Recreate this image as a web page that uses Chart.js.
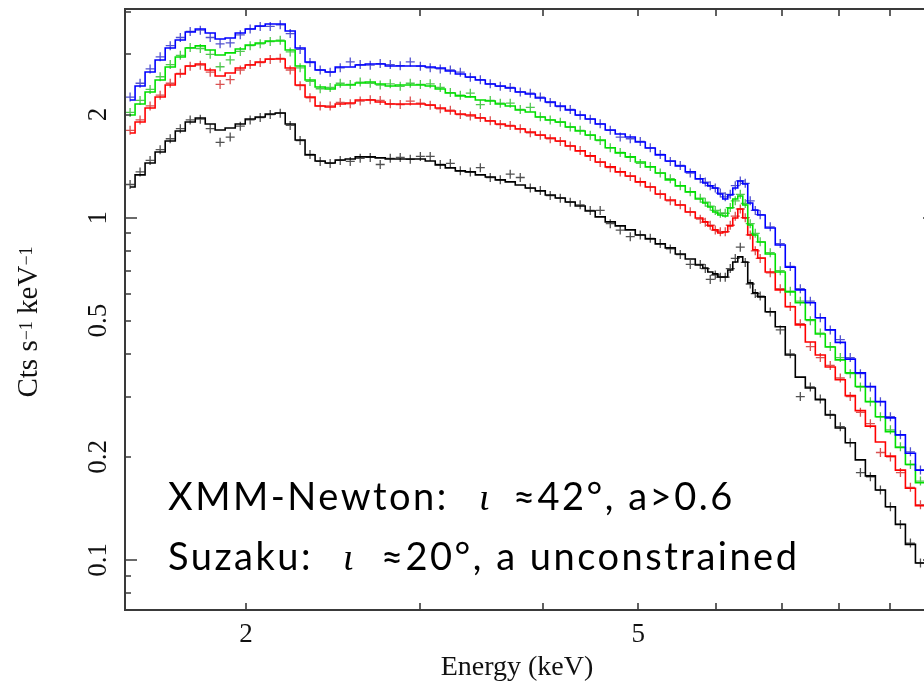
<!DOCTYPE html>
<html>
<head>
<meta charset="utf-8">
<script src="https://cdn.jsdelivr.net/npm/chart.js@4.4.1/dist/chart.umd.min.js"></script>
<style>
  html, body { margin: 0; padding: 0; background: #fff; overflow: hidden; }
  #wrap { width: 924px; height: 683px; overflow: hidden; }
</style>
</head>
<body>
<div id="wrap"><canvas id="spectrumChart" width="960" height="683"></canvas></div>
<script>
"use strict"

// bin centres (keV)
var energy = [1.526, 1.562, 1.599, 1.637, 1.676, 1.716, 1.756, 1.798, 1.840, 1.883,
  1.928, 1.974, 2.020, 2.068, 2.117, 2.167, 2.218, 2.270, 2.323, 2.379,
  2.435, 2.493, 2.552, 2.612, 2.674, 2.737, 2.802, 2.868, 2.936, 3.006,
  3.076, 3.149, 3.224, 3.300, 3.378, 3.458, 3.539, 3.623, 3.708, 3.796,
  3.886, 3.978, 4.071, 4.168, 4.266, 4.366, 4.470, 4.575, 4.684, 4.794,
  4.908, 5.024, 5.143, 5.264, 5.389, 5.516, 5.646, 5.780,
  5.848, 5.916, 5.986, 6.057, 6.127, 6.199, 6.272, 6.346, 6.420, 6.495, 6.572, 6.648,
  6.806, 6.967, 7.132, 7.301, 7.474, 7.650, 7.830, 8.016, 8.204, 8.401, 8.599, 8.803, 9.011, 9.224, 9.442, 9.666, 9.894];

// folded models (step lines)
var blueModel = [2.207, 2.425, 2.665, 2.889, 3.132, 3.305, 3.488, 3.559, 3.464, 3.327,
  3.350, 3.464, 3.559, 3.632, 3.681, 3.681, 3.511, 3.132, 2.850, 2.701,
  2.665, 2.756, 2.756, 2.793, 2.812, 2.812, 2.774, 2.774, 2.774, 2.774,
  2.756, 2.738, 2.683, 2.629, 2.576, 2.525, 2.457, 2.425, 2.393, 2.329,
  2.298, 2.237, 2.177, 2.120, 2.063, 1.995, 1.942, 1.878, 1.804, 1.756,
  1.721, 1.663, 1.598, 1.525, 1.464, 1.416, 1.361, 1.298,
  1.263, 1.238, 1.221, 1.173, 1.134, 1.165, 1.221, 1.280, 1.254, 1.104, 1.053, 1.018,
  0.933, 0.832, 0.717, 0.615, 0.564, 0.510, 0.470, 0.432, 0.386, 0.352, 0.321, 0.290, 0.260, 0.232, 0.205, 0.183, 0.166];
var greenModel = [1.995, 2.148, 2.329, 2.525, 2.756, 2.948, 3.132, 3.175, 3.090, 2.988,
  3.029, 3.111, 3.196, 3.239, 3.283, 3.283, 3.090, 2.774, 2.525, 2.408,
  2.377, 2.441, 2.441, 2.474, 2.491, 2.457, 2.425, 2.441, 2.441, 2.441,
  2.425, 2.377, 2.314, 2.268, 2.253, 2.207, 2.192, 2.148, 2.120, 2.063,
  2.035, 1.968, 1.929, 1.903, 1.840, 1.792, 1.744, 1.686, 1.600, 1.546,
  1.505, 1.454, 1.407, 1.351, 1.289, 1.238, 1.189, 1.134,
  1.104, 1.074, 1.039, 1.018, 1.011, 1.067, 1.134, 1.157, 1.089, 0.952, 0.890, 0.849,
  0.783, 0.694, 0.607, 0.564, 0.503, 0.457, 0.419, 0.384, 0.352, 0.321, 0.290, 0.262, 0.237, 0.213, 0.190, 0.168, 0.150];
var redModel = [1.768, 1.903, 2.091, 2.252, 2.441, 2.629, 2.774, 2.812, 2.701, 2.594,
  2.646, 2.738, 2.793, 2.850, 2.908, 2.908, 2.738, 2.441, 2.252, 2.120,
  2.106, 2.148, 2.163, 2.207, 2.207, 2.177, 2.148, 2.148, 2.148, 2.148,
  2.134, 2.091, 2.049, 2.009, 1.995, 1.955, 1.916, 1.878, 1.853, 1.816,
  1.780, 1.744, 1.709, 1.675, 1.620, 1.567, 1.515, 1.454, 1.407, 1.361,
  1.324, 1.272, 1.229, 1.173, 1.126, 1.089, 1.039, 0.998,
  0.972, 0.946, 0.921, 0.902, 0.908, 0.946, 0.998, 1.060, 0.998, 0.890, 0.805, 0.762,
  0.694, 0.615, 0.549, 0.486, 0.433, 0.397, 0.366, 0.336, 0.302, 0.273, 0.246, 0.221, 0.201, 0.183, 0.162, 0.144, 0.129];
var blackModel = [1.229, 1.333, 1.445, 1.556, 1.675, 1.792, 1.903, 1.955, 1.878, 1.804,
  1.828, 1.878, 1.942, 1.968, 2.009, 2.022, 1.878, 1.686, 1.525, 1.464,
  1.445, 1.474, 1.484, 1.505, 1.505, 1.495, 1.484, 1.484, 1.484, 1.484,
  1.464, 1.426, 1.398, 1.370, 1.361, 1.333, 1.315, 1.289, 1.272, 1.246,
  1.221, 1.197, 1.165, 1.141, 1.111, 1.082, 1.046, 1.005, 0.972, 0.946,
  0.921, 0.890, 0.867, 0.838, 0.816, 0.783, 0.757, 0.727,
  0.713, 0.694, 0.685, 0.671, 0.671, 0.703, 0.742, 0.768, 0.742, 0.645, 0.603, 0.587,
  0.531, 0.480, 0.397, 0.342, 0.318, 0.294, 0.265, 0.243, 0.220, 0.196, 0.176, 0.160, 0.143, 0.127, 0.111, 0.098, 0.0905];

// measured counts (crosses)
var blueData = [2.25, 2.47, 2.72, 2.95, 3.18, 3.36, 3.50, 3.53, 3.36, 3.22,
  3.24, 3.42, 3.56, 3.62, 3.62, 3.66, 3.45, 3.10, 2.84, 2.70,
  2.66, 2.74, 2.85, 2.80, 2.79, 2.82, 2.80, 2.78, 2.85, 2.77,
  2.74, 2.72, 2.70, 2.66, 2.57, 2.53, 2.46, 2.42, 2.40, 2.33,
  2.31, 2.25, 2.17, 2.11, 2.07, 1.99, 1.94, 1.88, 1.80, 1.72,
  1.70, 1.67, 1.60, 1.53, 1.46, 1.42, 1.35, 1.30,
  1.27, 1.24, 1.22, 1.18, 1.15, 1.17, 1.24, 1.28, 1.26, 1.12, 1.05, 1.02,
  0.94, 0.84, 0.72, 0.62, 0.57, 0.51, 0.47, 0.44, 0.39, 0.35, 0.32, 0.29, 0.262, 0.232, 0.207, 0.183, 0.168];
var greenData = [2.03, 2.20, 2.37, 2.58, 2.80, 2.98, 3.14, 3.12, 3.00, 2.76,
  2.89, 3.06, 3.18, 3.22, 3.27, 3.30, 3.05, 2.74, 2.50, 2.38,
  2.40, 2.47, 2.45, 2.49, 2.47, 2.44, 2.46, 2.42, 2.47, 2.45,
  2.46, 2.40, 2.32, 2.28, 2.31, 2.14, 2.20, 2.16, 2.16, 2.07,
  2.10, 1.97, 1.93, 1.90, 1.84, 1.80, 1.74, 1.68, 1.60, 1.55,
  1.50, 1.44, 1.41, 1.35, 1.30, 1.24, 1.19, 1.14,
  1.11, 1.08, 1.05, 1.03, 1.03, 1.07, 1.12, 1.17, 1.10, 0.96, 0.90, 0.85,
  0.79, 0.70, 0.61, 0.57, 0.50, 0.46, 0.42, 0.39, 0.35, 0.32, 0.29, 0.262, 0.24, 0.214, 0.19, 0.17, 0.15];
var redData = [1.80, 1.93, 2.12, 2.28, 2.47, 2.64, 2.77, 2.79, 2.66, 2.45,
  2.53, 2.70, 2.80, 2.84, 2.90, 2.92, 2.70, 2.43, 2.24, 2.12,
  2.12, 2.17, 2.15, 2.19, 2.21, 2.20, 2.15, 2.14, 2.19, 2.16,
  2.13, 2.08, 2.06, 2.00, 1.98, 1.96, 1.92, 1.87, 1.86, 1.82,
  1.77, 1.74, 1.70, 1.67, 1.62, 1.57, 1.51, 1.45, 1.40, 1.36,
  1.32, 1.27, 1.23, 1.17, 1.12, 1.09, 1.04, 0.99,
  0.97, 0.95, 0.92, 0.91, 0.91, 0.95, 1.01, 1.06, 1.00, 0.89, 0.80, 0.76,
  0.69, 0.62, 0.55, 0.49, 0.42, 0.39, 0.37, 0.34, 0.30, 0.27, 0.25, 0.206, 0.20, 0.18, 0.163, 0.145, 0.13];
var blackData = [1.25, 1.36, 1.47, 1.58, 1.70, 1.82, 1.93, 1.94, 1.82, 1.66,
  1.72, 1.85, 1.93, 1.96, 2.00, 2.02, 1.86, 1.68, 1.53, 1.46,
  1.44, 1.47, 1.46, 1.49, 1.50, 1.43, 1.49, 1.50, 1.48, 1.51,
  1.51, 1.43, 1.44, 1.37, 1.36, 1.40, 1.31, 1.29, 1.34, 1.31,
  1.22, 1.20, 1.16, 1.14, 1.11, 1.09, 1.05, 1.05, 0.96, 0.92,
  0.88, 0.89, 0.87, 0.84, 0.81, 0.78, 0.73, 0.73,
  0.71, 0.66, 0.68, 0.67, 0.67, 0.71, 0.76, 0.82, 0.74, 0.64, 0.60, 0.59,
  0.53, 0.47, 0.40, 0.30, 0.32, 0.295, 0.266, 0.245, 0.22, 0.18, 0.175, 0.16, 0.143, 0.127, 0.112, 0.098, 0.09];

// axes
var xTicks = [2, 3, 4, 5, 6, 7, 8, 9, 10];
var xLabels = [2, 5];
var yTicks = [0.08, 0.09, 0.1, 0.2, 0.3, 0.4, 0.5, 0.6, 0.7, 0.8, 0.9, 1, 2, 3, 4];
var yMajor = [0.1, 1];
var yLabels = [0.1, 0.2, 0.5, 1, 2];

function pairs(vals) {
  return energy.map(function(e, i){ return {x: e, y: vals[i]}; });
}

function modelSet(vals, color) {
  return {
    data: pairs(vals),
    borderColor: color,
    borderWidth: 1.6,
    pointRadius: 0,
    stepped: 'middle',
    fill: false
  };
}

function dataSet(vals, color) {
  return {
    data: pairs(vals),
    showLine: false,
    borderColor: color,
    backgroundColor: color,
    pointStyle: 'cross',
    pointRadius: 4.5,
    pointBorderWidth: 1.3
  };
}

var framePlugin = {
  id: 'frame',
  afterDraw: function(chart) {
    var ctx = chart.ctx;
    var a = chart.chartArea;
    var xs = chart.scales.x, ys = chart.scales.y;
    ctx.save();

    // box + inward ticks
    ctx.strokeStyle = '#3a3a3a';
    ctx.lineWidth = 2;
    ctx.strokeRect(a.left, a.top, a.right - a.left, a.bottom - a.top);
    ctx.lineWidth = 1.6;
    ctx.beginPath();
    xTicks.forEach(function(t){
      var px = Math.round(xs.getPixelForValue(t));
      ctx.moveTo(px, a.bottom); ctx.lineTo(px, a.bottom - 7);
      ctx.moveTo(px, a.top); ctx.lineTo(px, a.top + 7);
    });
    yTicks.forEach(function(t){
      var py = Math.round(ys.getPixelForValue(t));
      var len = yMajor.indexOf(t) >= 0 ? 12 : 6;
      ctx.moveTo(a.left, py); ctx.lineTo(a.left + len, py);
      ctx.moveTo(a.right, py); ctx.lineTo(a.right - len, py);
    });
    ctx.stroke();

    // tick labels
    ctx.fillStyle = '#111';
    ctx.font = '27px "Liberation Serif"';
    ctx.textAlign = 'center';
    ctx.textBaseline = 'alphabetic';
    xLabels.forEach(function(t){
      ctx.fillText(String(t), xs.getPixelForValue(t), 642);
    });
    yLabels.forEach(function(t){
      ctx.save();
      ctx.translate(106, ys.getPixelForValue(t));
      ctx.rotate(-Math.PI / 2);
      ctx.fillText(String(t), 0, 0);
      ctx.restore();
    });

    // axis titles
    ctx.font = '28px "Liberation Serif"';
    ctx.fillText('Energy (keV)', 517, 675);

    var parts = [
      {t: 'Cts s', f: '29px "Liberation Serif"', r: 0},
      {t: '\u22121', f: '18px "Liberation Serif"', r: 5},
      {t: ' keV', f: '29px "Liberation Serif"', r: 0},
      {t: '\u22121', f: '18px "Liberation Serif"', r: 5}
    ];
    var total = 0;
    parts.forEach(function(p){ ctx.font = p.f; p.w = ctx.measureText(p.t).width; total += p.w; });
    ctx.save();
    ctx.translate(37, 322);
    ctx.rotate(-Math.PI / 2);
    ctx.textAlign = 'left';
    var cx = -total / 2;
    parts.forEach(function(p){ ctx.font = p.f; ctx.fillText(p.t, cx, -p.r); cx += p.w; });
    ctx.restore();

    // annotation
    var sans = '38px Lato';
    var iota = 'italic 38px "Liberation Serif"';
    var lines = [
      {y: 510, runs: [[168, 'XMM-Newton:', sans], [479, '\u03b9', iota], [513, '\u224842\u00b0, a>0.6', sans]]},
      {y: 570, runs: [[168, 'Suzaku:', sans], [343, '\u03b9', iota], [381, '\u224820\u00b0, a unconstrained', sans]]}
    ];
    ctx.textAlign = 'left';
    ctx.fillStyle = '#000';
    lines.forEach(function(l){
      l.runs.forEach(function(r){
        ctx.font = r[2];
        ctx.letterSpacing = r[2] === sans ? '2.5px' : '0px';
        ctx.fillText(r[1], r[0], l.y);
      });
    });
    ctx.restore();
  }
};

var ctxS = document.getElementById("spectrumChart").getContext('2d');
var mySpectrumChart = new Chart(ctxS, {
  type: 'line',
  data: {
    datasets: [
      modelSet(blueModel, '#0000ff'),
      modelSet(greenModel, '#00e000'),
      modelSet(redModel, '#ff0000'),
      modelSet(blackModel, '#000000'),
      dataSet(blueData, 'rgba(50,50,200,0.85)'),
      dataSet(greenData, 'rgba(50,190,50,0.85)'),
      dataSet(redData, 'rgba(210,50,50,0.85)'),
      dataSet(blackData, 'rgba(50,50,50,0.85)')
    ]
  },
  options: {
    responsive: false,
    animation: false,
    events: [],
    layout: { padding: { left: 125, top: 9, right: 25, bottom: 73 } },
    plugins: { legend: { display: false }, tooltip: { enabled: false } },
    scales: {
      x: { type: 'logarithmic', min: 1.508, max: 10, display: false },
      y: { type: 'logarithmic', min: 0.0714, max: 4.07, display: false }
    }
  },
  plugins: [framePlugin]
});
</script>
</body>
</html>
